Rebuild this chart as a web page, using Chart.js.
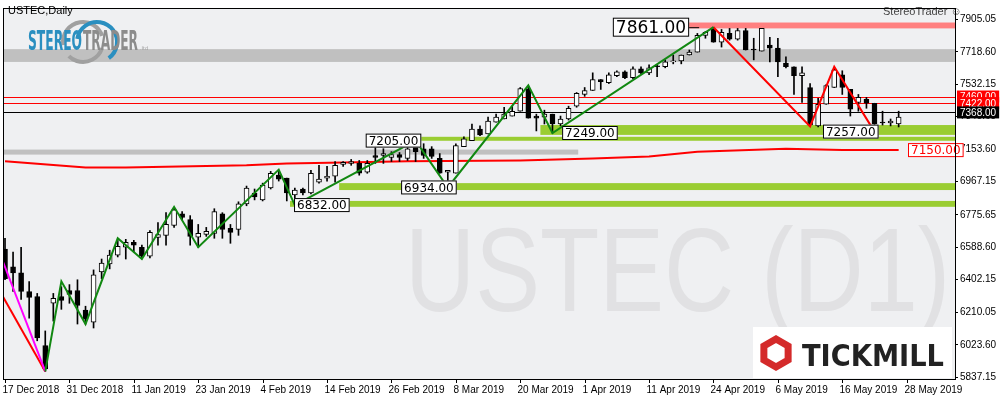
<!DOCTYPE html>
<html>
<head>
<meta charset="UTF-8">
<title>USTEC Daily</title>
<script src="https://cdn.jsdelivr.net/npm/chart.js"></script>
<style>
  html, body { margin: 0; padding: 0; background: #fff; }
  #wrap { width: 1000px; height: 400px; }
</style>
</head>
<body>
<div id="wrap"><canvas id="c" width="1000" height="400"></canvas></div>
<script>
// candles, one per bar (index 0 = 17 Dec 2018)
const opens  = [6577,6475,6440,6332,6303,6019,6264,6303,6338,6338,6224,6155,6446,6492,6543,6588,6617,6588,6537,6645,
  6657,6714,6782,6748,6646,6663,6668,6782,6697,6691,6839,6902,6862,6931,7005,6988,6891,6925,6902,6965,
  6988,6999,7067,7073,7073,7022,7119,7119,7107,7124,7102,7176,7158,7158,7102,7022,7016,7170,7204,7272,
  7244,7312,7330,7347,7375,7501,7347,7341,7358,7301,7330,7404,7472,7495,7558,7540,7580,7603,7569,7620,
  7597,7637,7632,7660,7666,7700,7717,7814,7848,7774,7825,7791,7842,7734,7723,7757,7740,7654,7632,7580,
  7512,7290,7415,7512,7586,7501,7426,7443,7421,7312,7307,7301];
const highs  = [6640,6560,6588,6389,6321,6104,6321,6360,6372,6400,6247,6457,6520,6571,6628,6634,6628,6600,6685,6731,
  6788,6817,6794,6771,6720,6703,6811,6788,6720,6851,6942,6925,6959,7027,7033,6988,6931,6931,7033,7062,
  7056,7084,7084,7096,7090,7090,7176,7158,7141,7136,7176,7205,7187,7170,7130,7033,7187,7227,7301,7290,
  7341,7358,7398,7404,7512,7518,7358,7381,7358,7347,7404,7483,7512,7597,7558,7597,7609,7609,7632,7632,
  7643,7643,7672,7700,7700,7729,7825,7837,7861,7848,7854,7854,7854,7797,7854,7803,7797,7689,7632,7632,
  7535,7449,7529,7626,7609,7501,7472,7455,7421,7375,7330,7375];
const lows   = [6400,6332,6286,6178,6047,5870,6161,6229,6264,6144,6144,6121,6406,6463,6532,6520,6560,6520,6526,6600,
  6600,6703,6748,6600,6588,6651,6640,6640,6611,6657,6828,6862,6856,6925,6971,6856,6835,6891,6896,6959,
  6971,6965,7056,7062,7005,7016,7073,7073,7084,7084,7090,7084,7102,7102,7016,6934,7016,7170,7204,7233,
  7244,7312,7330,7347,7375,7335,7261,7301,7249,7290,7324,7398,7461,7495,7501,7535,7575,7563,7563,7592,
  7586,7575,7626,7649,7649,7700,7717,7797,7774,7746,7786,7786,7729,7672,7723,7660,7575,7626,7472,7426,
  7295,7284,7415,7512,7472,7347,7375,7392,7257,7295,7290,7284];
const closes = [6406,6440,6332,6298,6064,5885,6292,6281,6315,6252,6172,6429,6497,6543,6594,6617,6600,6537,6674,6662,
  6720,6805,6760,6651,6668,6680,6794,6691,6674,6839,6931,6879,6948,7016,6982,6902,6919,6902,7016,6982,
  6999,7062,7079,7084,7016,7073,7107,7130,7124,7107,7158,7141,7119,7113,7016,7033,7176,7215,7272,7238,
  7318,7341,7358,7375,7506,7335,7335,7358,7301,7330,7392,7478,7495,7558,7546,7586,7603,7569,7620,7597,
  7626,7632,7660,7666,7700,7717,7814,7831,7774,7831,7791,7842,7729,7729,7854,7740,7660,7632,7580,7597,
  7295,7415,7523,7614,7512,7387,7455,7421,7301,7307,7318,7341];

// moving average read at a few bars
const maBars   = [0, 10, 15, 30, 35, 42, 50, 64, 73, 80, 86, 97, 104, 111];
const maValues = [7085, 7050, 7050, 7062, 7073, 7079, 7085, 7090, 7102, 7113, 7141, 7158, 7150, 7150];

// zigzags
const greenBars   = [5, 7, 10, 14, 17, 21, 24, 34, 36, 51, 55, 65, 68, 88];
const greenValues = [5870, 6391, 6144, 6640, 6520, 6822, 6588, 7037, 6832, 7205, 6934, 7525, 7249, 7861];
const redBars     = [88, 100, 103, 108];
const redValues   = [7861, 7287, 7632, 7257];
const leftMagenta = [6510, 5870];
const leftRed     = [6306, 5870];

// levels
const hLineValues = [7460, 7422, 7368];
const hLineColors = ['#ff0000', '#ff0000', '#000000'];
const zoneFrom  = [-1, -1, 84, 66.5, 51.4, 41.5, 35.4];
const zoneTo    = [119, 71.2, 119, 119, 119, 119, 119];
const zoneLow   = [7660, 7124, 7854, 7238, 7204, 6919, 6822];
const zoneHigh  = [7734, 7153, 7888, 7295, 7227, 6959, 6856];
const zoneColor = ['#c0c0c0', '#c0c0c0', '#ff8080', '#9acd32', '#9acd32', '#9acd32', '#9acd32'];

// value boxes: bar, price, text
const boxBars   = [75.5, 44.8, 49.2, 35.9, 69.2, 101.6];
const boxValues = [7861, 7205, 6934, 6832, 7249, 7257];
const boxTexts  = ['7861.00', '7205.00', '6934.00', '6832.00', '7249.00', '7257.00'];

const yTicks = [7905.05, 7718.60, 7532.15, 7345.65, 7153.60, 6967.15, 6775.65, 6588.60, 6402.15, 6210.05, 6023.60, 5837.15];
const dateLabels = ['17 Dec 2018','31 Dec 2018','11 Jan 2019','23 Jan 2019','4 Feb 2019','14 Feb 2019','26 Feb 2019',
  '8 Mar 2019','20 Mar 2019','1 Apr 2019','11 Apr 2019','24 Apr 2019','6 May 2019','16 May 2019','28 May 2019'];
const dateStep = 8;

const FONT = '"DejaVu Sans", sans-serif';
const AXFONT = '"Liberation Sans", Arial, sans-serif';
const isUp = opens.map((o, i) => closes[i] >= o);

const wicks  = highs.map((h, i) => ({ x: i, y: [lows[i], h] }));
const bodies = opens.map((o, i) => {
  const c = closes[i];
  return { x: i, y: o === c ? [o - 2, c + 2] : [o, c] };
});

function boxText(ctx, text, x, y, font, fg, bg, border) {
  ctx.font = font;
  const w = ctx.measureText(text).width + 6;
  const h = parseInt(font) + 2;
  ctx.fillStyle = bg;
  ctx.fillRect(x, y - h / 2, w, h);
  if (border) { ctx.strokeStyle = border; ctx.lineWidth = 1; ctx.strokeRect(x + 0.5, y - h / 2 + 0.5, w - 1, h - 1); }
  ctx.fillStyle = fg;
  ctx.textAlign = 'left';
  ctx.textBaseline = 'middle';
  ctx.fillText(text, x + 3, y + 1);
  return w;
}

function fitText(ctx, text, x, y, width, font, color) {
  ctx.save();
  ctx.font = font;
  const s = width / ctx.measureText(text).width;
  ctx.translate(x, y);
  ctx.scale(s, 1);
  ctx.fillStyle = color;
  ctx.textAlign = 'left';
  ctx.textBaseline = 'alphabetic';
  ctx.fillText(text, 0, 0);
  ctx.restore();
}

const decor = {
  id: 'decor',
  beforeDatasetsDraw(chart) {
    const { ctx, chartArea: a, scales: { x, y } } = chart;
    ctx.save();
    ctx.fillStyle = '#eff0f2';
    ctx.fillRect(a.left, a.top, a.right - a.left, a.bottom - a.top);
    ctx.beginPath(); ctx.rect(a.left, a.top, a.right - a.left, a.bottom - a.top); ctx.clip();

    // watermark
    fitText(ctx, 'USTEC (D1)', 405, 311, 545, '118px "Liberation Sans", sans-serif', '#e1e1e3');

    // zones
    zoneFrom.forEach((f, i) => {
      const x0 = x.getPixelForValue(f), x1 = x.getPixelForValue(zoneTo[i]);
      const y0 = y.getPixelForValue(zoneHigh[i]), y1 = y.getPixelForValue(zoneLow[i]);
      ctx.fillStyle = zoneColor[i];
      ctx.fillRect(x0, y0, x1 - x0, y1 - y0);
    });

    // stereotrader logo
    ctx.lineWidth = 4;
    ctx.strokeStyle = '#a0a0a0';
    ctx.beginPath(); ctx.arc(83, 42, 20, Math.PI * 0.95, Math.PI * 1.9); ctx.stroke();
    ctx.beginPath(); ctx.arc(83, 42, 20, Math.PI * 0.1, Math.PI * 0.75); ctx.stroke();
    ctx.strokeStyle = '#2a8fc0';
    ctx.beginPath(); ctx.arc(97, 42, 20, Math.PI * 1.05, Math.PI * 2.3); ctx.stroke();
    fitText(ctx, 'STEREO', 28, 50, 54, 'bold 26px "DejaVu Sans Condensed", sans-serif', '#2a8fc0');
    fitText(ctx, 'TRADER', 83, 50, 55, 'bold 26px "DejaVu Sans Condensed", sans-serif', '#8c8c8c');
    ctx.font = '5px ' + FONT; ctx.fillStyle = '#999'; ctx.fillText('.ltd', 140, 50);

    // horizontal levels
    hLineValues.forEach((v, i) => {
      const py = Math.round(y.getPixelForValue(v)) + 0.5;
      ctx.strokeStyle = hLineColors[i]; ctx.lineWidth = 1;
      ctx.beginPath(); ctx.moveTo(a.left, py); ctx.lineTo(a.right, py); ctx.stroke();
    });
    ctx.restore();
  },
  afterDatasetsDraw(chart) {
    const { ctx, chartArea: a, scales: { x, y } } = chart;
    ctx.save();

    // value boxes
    boxBars.forEach((b, i) => {
      const px = x.getPixelForValue(b), py = y.getPixelForValue(boxValues[i]);
      const big = i === 0;
      const w = boxText(ctx, boxTexts[i], px, py, big ? '17px ' + FONT : '12px ' + FONT, '#000', '#fff', '#000');
      if (big) {
        ctx.strokeStyle = '#000'; ctx.lineWidth = 1;
        ctx.beginPath(); ctx.moveTo(px + w, py + 0.5); ctx.lineTo(px + w + 10, py + 0.5); ctx.stroke();
      }
    });

    // MA end label
    boxText(ctx, '7150.00', 908, y.getPixelForValue(7150), '12px ' + FONT, '#ff0000', '#fff', '#ff0000');

    ctx.font = '11px ' + AXFONT; ctx.fillStyle = '#000'; ctx.textAlign = 'left'; ctx.textBaseline = 'middle';
    ctx.fillText('USTEC,Daily', 8, 11);
    ctx.fillStyle = '#444';
    ctx.fillText('StereoTrader \u263A', 883, 12);

    // Tickmill
    ctx.fillStyle = '#fff';
    ctx.fillRect(753, 327, 199, 51);
    ctx.strokeStyle = '#d42a2a'; ctx.lineWidth = 7;
    ctx.beginPath();
    for (let k = 0; k < 6; k++) {
      const ang = Math.PI / 6 + k * Math.PI / 3;
      const hx = 776 + 14 * Math.cos(ang), hy = 353 + 14 * Math.sin(ang);
      k ? ctx.lineTo(hx, hy) : ctx.moveTo(hx, hy);
    }
    ctx.closePath(); ctx.stroke();
    fitText(ctx, 'TICKMILL', 802, 366, 142, 'bold 30px "DejaVu Sans", sans-serif', '#222');

    // frame
    ctx.strokeStyle = '#000'; ctx.lineWidth = 1;
    ctx.strokeRect(a.left + 0.5, a.top + 0.5, a.right - a.left, a.bottom - a.top);

    // date labels
    ctx.font = '10px ' + AXFONT; ctx.fillStyle = '#000'; ctx.textBaseline = 'top';
    dateLabels.forEach((t, k) => {
      const px = Math.round(x.getPixelForValue(k * dateStep)) + 0.5;
      ctx.beginPath(); ctx.moveTo(px, a.bottom); ctx.lineTo(px, a.bottom + 4); ctx.stroke();
      ctx.fillText(t, px - 3, a.bottom + 6);
    });

    // right level tags
    ctx.fillStyle = '#fff';
    ctx.fillRect(a.right + 1, y.getPixelForValue(7470), 1000 - a.right, y.getPixelForValue(7360) - y.getPixelForValue(7470));
    hLineValues.forEach((v, i) => {
      boxText(ctx, v.toFixed(2), a.right + 2, y.getPixelForValue(v), '10px ' + AXFONT, '#fff', hLineColors[i], null);
    });
    ctx.restore();
  }
};

new Chart(document.getElementById('c'), {
  data: {
    datasets: [
      { type: 'bar', data: wicks, grouped: false, barThickness: 1, backgroundColor: '#000', order: 3 },
      { type: 'bar', data: bodies, grouped: false, barThickness: 5, borderSkipped: false, borderWidth: 1,
        borderColor: '#000', backgroundColor: isUp.map(u => u ? '#fff' : '#000'), order: 2 },
      { type: 'line', data: maBars.map((b, i) => ({ x: b, y: maValues[i] })), borderColor: '#ff0000', borderWidth: 2, pointRadius: 0, order: 4 },
      { type: 'line', data: greenBars.map((b, i) => ({ x: b, y: greenValues[i] })), borderColor: '#118811', borderWidth: 2, pointRadius: 0, order: 1 },
      { type: 'line', data: redBars.map((b, i) => ({ x: b, y: redValues[i] })), borderColor: '#ff0000', borderWidth: 2, pointRadius: 0, order: 1 },
      { type: 'line', data: [{ x: -0.3, y: leftMagenta[0] }, { x: 5, y: leftMagenta[1] }], borderColor: '#ff00ff', borderWidth: 2, pointRadius: 0, order: 1 },
      { type: 'line', data: [{ x: -0.3, y: leftRed[0] }, { x: 5, y: leftRed[1] }], borderColor: '#ff0000', borderWidth: 2, pointRadius: 0, order: 1 }
    ]
  },
  options: {
    responsive: false,
    animation: false,
    layout: { padding: { left: 3, top: 2, bottom: 21, right: 0 } },
    plugins: { legend: { display: false }, tooltip: { enabled: false } },
    scales: {
      x: { type: 'linear', min: -0.25, max: 118, offset: false, display: false },
      y: {
        position: 'right', min: 5826, max: 7972,
        afterFit: s => { s.width = 45; },
        afterBuildTicks: s => { s.ticks = yTicks.map(v => ({ value: v })); },
        grid: { drawOnChartArea: false, tickLength: 3, color: '#000' },
        border: { color: '#000' },
        ticks: { color: '#000', font: { family: 'Liberation Sans', size: 10 }, padding: 2, callback: v => v.toFixed(2) }
      }
    }
  },
  plugins: [decor]
});
</script>
</body>
</html>
